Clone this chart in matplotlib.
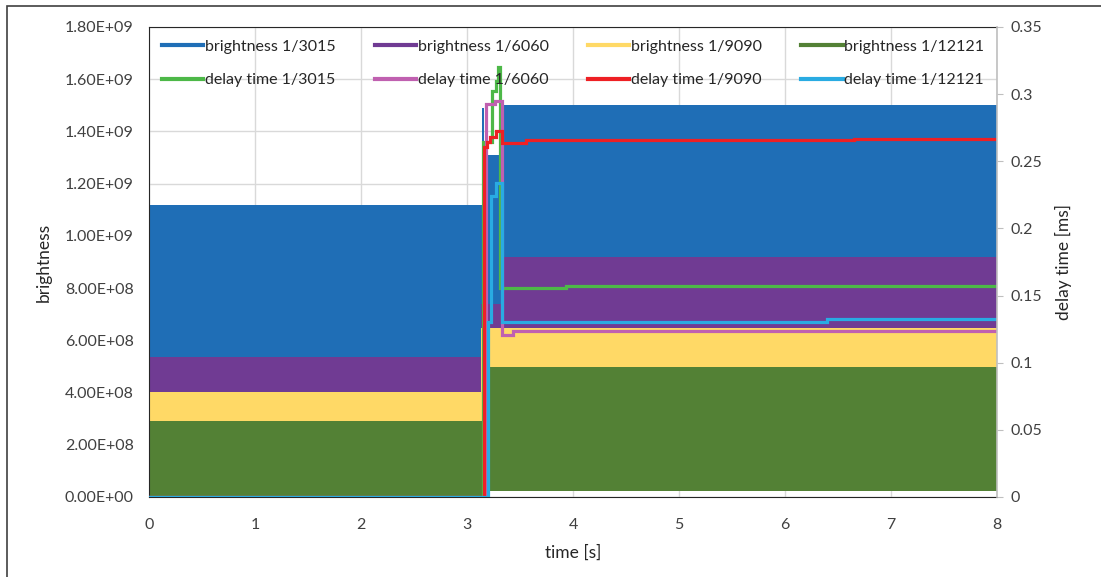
import numpy as np
import matplotlib.pyplot as plt
from matplotlib.lines import Line2D
from matplotlib.patches import Rectangle
from matplotlib.ticker import FuncFormatter, MultipleLocator

plt.rcParams['font.family'] = ['Lato', 'DejaVu Sans']

# brightness: the signal oscillates very fast, so each series is kept as
# segments (start times) with the lower and upper bound of the oscillation
b3015_t = [0, 3.14, 3.16, 3.33, 8]
b3015_lo = [0, 0, 2.5e7, 2.5e7]
b3015_hi = [1.12e9, 1.49e9, 1.31e9, 1.50e9]

b6060_t = [0, 3.13, 3.33, 8]
b6060_lo = [0, 2.5e7, 2.5e7]
b6060_hi = [5.35e8, 7.4e8, 9.2e8]

b9090_t = [0, 3.13, 8]
b9090_lo = [0, 2.5e7]
b9090_hi = [4.02e8, 6.47e8]

b12121_t = [0, 3.16, 8]
b12121_lo = [0, 2.3e7]
b12121_hi = [2.92e8, 4.99e8]

# delay time [ms], step values
d3015_t = [0, 3.15, 3.24, 3.27, 3.29, 3.31, 3.93, 8]
d3015_v = [0, 0.264, 0.302, 0.31, 0.32, 0.1555, 0.157, 0.157]

d6060_t = [0, 3.18, 3.26, 3.33, 3.43, 8]
d6060_v = [0, 0.293, 0.295, 0.1205, 0.1238, 0.1238]

d9090_t = [0, 3.16, 3.19, 3.22, 3.27, 3.33, 3.56, 6.65, 8]
d9090_v = [0, 0.261, 0.264, 0.268, 0.2725, 0.2635, 0.2655, 0.2668, 0.2668]

d12121_t = [0, 3.20, 3.23, 3.27, 3.33, 6.4, 8]
d12121_v = [0, 0.1305, 0.224, 0.234, 0.1305, 0.1325, 0.1325]

labels = ['1/3015', '1/6060', '1/9090', '1/12121']
b_colors = ['#1f6eb6', '#703b93', '#ffd966', '#538135']
d_colors = ['#4db848', '#c060b0', '#ee2024', '#29abe2']

fig = plt.figure(figsize=(11.01, 5.77), dpi=100)
ax = fig.add_axes([149 / 1101, 1 - 497 / 577, 848 / 1101, 470 / 577])
ax2 = ax.twinx()

# outer chart border
fig.patches.append(Rectangle((7 / 1101, -0.01), 1.02, 1 - 6 / 577 + 0.01,
                             transform=fig.transFigure, fill=False,
                             edgecolor='#404040', linewidth=1.2))

bands = [(b3015_t, b3015_lo, b3015_hi), (b6060_t, b6060_lo, b6060_hi),
         (b9090_t, b9090_lo, b9090_hi), (b12121_t, b12121_lo, b12121_hi)]
for (t, lo, hi), c in zip(bands, b_colors):
    lo = list(lo) + [lo[-1]]
    hi = list(hi) + [hi[-1]]
    ax.fill_between(t, lo, hi, step='post', color=c, linewidth=0, zorder=2)

delays = [(d3015_t, d3015_v), (d6060_t, d6060_v),
          (d9090_t, d9090_v), (d12121_t, d12121_v)]
for (t, v), c in zip(delays, d_colors):
    ax2.plot(t, v, drawstyle='steps-post', color=c, linewidth=2.3,
             solid_joinstyle='miter')

ax.set_xlim(0, 8)
ax.set_ylim(0, 1.8e9)
ax2.set_ylim(0, 0.35)
ax.xaxis.set_major_locator(MultipleLocator(1))
ax.yaxis.set_major_locator(MultipleLocator(2e8))
ax2.yaxis.set_major_locator(MultipleLocator(0.05))
ax.yaxis.set_major_formatter(FuncFormatter(lambda v, p: '%.2E' % v))
ax2.yaxis.set_major_formatter(FuncFormatter(lambda v, p: '%g' % v))

ax.grid(True, color='#d9d9d9', linewidth=1)
ax.set_axisbelow(True)
ax.tick_params(axis='both', length=0, labelsize=11.5, colors='#404040',
               pad=11)
ax.tick_params(axis='x', pad=15)
ax2.tick_params(axis='y', length=4, color='#bfbfbf', labelsize=11.5,
                labelcolor='#404040', pad=6)

for s in ['left', 'top', 'bottom']:
    ax.spines[s].set_color('#262626')
    ax2.spines[s].set_visible(False)
ax.spines['right'].set_visible(False)
ax2.spines['right'].set_color('#bfbfbf')
ax2.spines['right'].set_linewidth(1.2)

ax.set_xlabel('time [s]', fontsize=12.5, color='#262626', labelpad=9)
ax.set_ylabel('brightness', fontsize=12.5, color='#262626', labelpad=9)
ax2.set_ylabel('delay time [ms]', fontsize=12.5, color='#262626', labelpad=9)

handles = []
names = []
for lab, bc, dc in zip(labels, b_colors, d_colors):
    handles += [Line2D([], [], color=bc, linewidth=3),
                Line2D([], [], color=dc, linewidth=3)]
    names += ['brightness ' + lab, 'delay time ' + lab]
ax2.legend(handles, names, ncol=4, loc='upper left',
           bbox_to_anchor=(0.0, 1.0, 1.0, 0.0), mode='expand',
           frameon=False, fontsize=11.5, handlelength=2.6, handletextpad=0.1,
           labelspacing=1.2, borderaxespad=0.4, labelcolor='#262626')

fig.savefig('out.png', dpi=100)
